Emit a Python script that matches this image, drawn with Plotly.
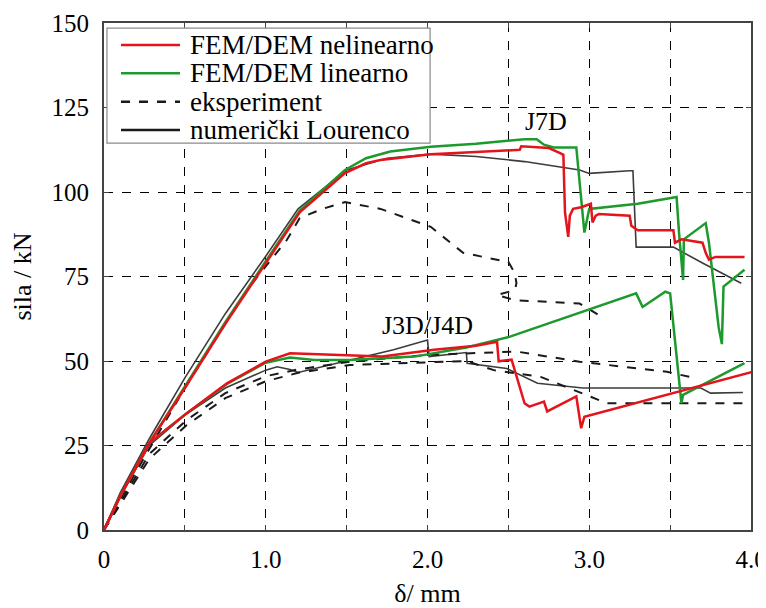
import plotly.graph_objects as go

# ---------------- data ----------------
# J7D - FEM/DEM nelinearno (red)
red_j7d_x = [0, 0.1, 0.28, 0.5, 0.75, 1.0, 1.21, 1.49, 1.62, 1.71, 2.02, 2.3, 2.57, 2.58, 2.75, 2.82,
             2.84, 2.85, 2.87, 2.88, 2.9, 2.95, 3.01, 3.02, 3.04, 3.06, 3.25, 3.26, 3.3, 3.52, 3.53,
             3.57, 3.7, 3.72, 3.74, 3.78, 3.96]
red_j7d_y = [0, 10, 25.7, 42, 61, 79, 94, 105.6, 108.5, 109.5, 111.2, 111.8, 112.5, 113.5, 113, 111.5,
             111, 94, 86.7, 93, 95, 95.5, 96.5, 91, 93, 93.5, 93, 90, 88.7, 88.7, 85,
             86, 85, 82, 80, 80.8, 80.8]

# J7D - FEM/DEM linearno (green)
green_j7d_x = [0, 0.1, 0.28, 0.5, 0.75, 1.0, 1.21, 1.49, 1.62, 1.77, 2.02, 2.3, 2.6, 2.675, 2.72, 2.78,
               2.92, 2.97, 2.99, 3.0, 3.3, 3.5, 3.54, 3.555, 3.58, 3.585, 3.72, 3.74, 3.8, 3.82, 3.83, 3.96]
green_j7d_y = [0, 10, 25.7, 42.5, 61.5, 79.5, 94.5, 106.5, 110, 112, 113.4, 114.3, 115.6, 115.6, 114, 113.2,
               113.2, 88, 93, 95, 96.5, 98, 98.5, 88, 74, 86, 90.8, 85, 60, 55, 72, 77]

# J7D - numerički Lourenco (black solid)
lour_j7d_x = [0, 0.1, 0.28, 0.5, 0.75, 1.0, 1.2, 1.5, 1.75, 2.02, 2.3, 2.6, 2.94, 3.0, 3.25, 3.27, 3.29,
              3.52, 3.7, 3.94]
lour_j7d_y = [0, 11, 27, 45, 64, 81, 95, 106.5, 110, 111.2, 110.5, 109, 106.5, 105.5, 106.3, 106.3, 83.7,
              83.7, 79, 73]

# J7D - eksperiment (black dashed)
exp_j7d_x = [0, 0.1, 0.28, 0.5, 0.75, 0.9, 1.0, 1.13, 1.21, 1.35, 1.49, 1.71, 2.02, 2.22, 2.5, 2.54,
             2.55, 2.54, 2.43, 2.54, 2.94, 3.09]
exp_j7d_y = [0, 9, 24, 42, 61, 72, 78, 85.8, 92.3, 95, 97, 95, 89.7, 82, 79.3, 76,
             73, 71, 69.5, 68, 67, 62.7]

# J3D/J4D - FEM/DEM nelinearno (red)
red_j34_x = [0, 0.1, 0.28, 0.51, 0.76, 1.0, 1.15, 1.32, 1.52, 1.72, 2.04, 2.3, 2.43, 2.44, 2.52, 2.6,
             2.63, 2.72, 2.74, 2.92, 2.95, 2.97, 4.01]
red_j34_y = [0, 10, 25.7, 34.5, 43.4, 49.8, 52.3, 52, 51.8, 51.3, 53.3, 54.5, 55.7, 49.9, 50.4, 37.5,
             36.5, 38, 35.1, 39.5, 30.1, 33.5, 46.8]

# J3D/J4D - FEM/DEM linearno (green)
green_j34_x = [0, 0.1, 0.28, 0.51, 0.76, 1.0, 1.15, 1.3, 1.52, 1.92, 2.24, 2.51, 3.29, 3.33, 3.47, 3.5,
               3.57, 3.58, 3.96]
green_j34_y = [0, 10, 25.7, 34.5, 43.2, 49.5, 51, 50.3, 50.3, 51.3, 54, 57.2, 70, 66, 70.5, 70,
               37.5, 40, 49.4]

# J3D/J4D - numerički Lourenco (black solid)
lour_j34_x = [0, 0.1, 0.28, 0.5, 0.75, 1.0, 1.07, 1.15, 1.2, 1.52, 1.79, 2.0, 2.01, 2.24, 2.245, 2.49,
              2.68, 2.96, 3.69, 3.75, 3.95]
lour_j34_y = [0, 10, 25, 34, 42, 47.3, 48.3, 47.5, 46.6, 50.3, 53.3, 56.2, 51.3, 52.5, 49.3, 47.8,
              43.4, 42, 42, 40.5, 40.7]

# J3D eksperiment (black dashed)
exp_j3_x = [0, 0.1, 0.28, 0.51, 0.75, 1.0, 1.2, 1.52, 2.0, 2.55, 2.94, 3.48, 3.62]
exp_j3_y = [0, 8, 22.5, 32.5, 40.5, 45.5, 47.5, 49.8, 51.8, 52.8, 49.8, 46.8, 45.3]

# J4D eksperiment (black dashed)
exp_j4_x = [0, 0.1, 0.28, 0.51, 0.75, 1.0, 1.2, 1.52, 2.24, 2.41, 2.7, 3.11, 3.96]
exp_j4_y = [0, 7.5, 21, 31, 39, 44, 46.5, 48.8, 50, 47.3, 45.3, 37.5, 37.5]

x_tick_vals = [0, 0.5, 1.0, 1.5, 2.0, 2.5, 3.0, 3.5, 4.0]
x_tick_text = ["0", "", "1.0", "", "2.0", "", "3.0", "", "4.0"]
y_tick_vals = [0, 25, 50, 75, 100, 125, 150]

legend_names = ["FEM/DEM nelinearno", "FEM/DEM linearno", "eksperiment", "numerički Lourenco"]

# ---------------- styles ----------------
RED = "#e3141b"
GREEN = "#1c9a2c"
BLACK = "#1a1a1a"
GRAY = "#3c3c3c"
FONT = "Liberation Serif"

fig = go.Figure()

def add(x, y, color, width, dash, name):
    fig.add_trace(go.Scatter(x=x, y=y, mode="lines", name=name, showlegend=False,
                             line=dict(color=color, width=width, dash=dash)))

add(lour_j7d_x, lour_j7d_y, GRAY, 1.6, "solid", legend_names[3])
add(lour_j34_x, lour_j34_y, GRAY, 1.6, "solid", legend_names[3])
add(exp_j7d_x, exp_j7d_y, BLACK, 2, "dash", legend_names[2])
add(exp_j3_x, exp_j3_y, BLACK, 2, "dash", legend_names[2])
add(exp_j4_x, exp_j4_y, BLACK, 2, "dash", legend_names[2])
add(green_j7d_x, green_j7d_y, GREEN, 2.5, "solid", legend_names[1])
add(green_j34_x, green_j34_y, GREEN, 2.5, "solid", legend_names[1])
add(red_j7d_x, red_j7d_y, RED, 2.5, "solid", legend_names[0])
add(red_j34_x, red_j34_y, RED, 2.5, "solid", legend_names[0])

# ---------------- legend box (drawn in paper coordinates) ----------------
fig.add_shape(type="rect", xref="paper", yref="paper", x0=0.0046, x1=0.504, y0=0.763, y1=0.990,
              line=dict(color="#8a8a8a", width=1.2), fillcolor="white", layer="above")
leg_colors = [RED, GREEN, BLACK, BLACK]
leg_dash = ["solid", "solid", "dash", "solid"]
leg_y = [0.9566, 0.9007, 0.8448, 0.7890]
for name, c, d, yy in zip(legend_names, leg_colors, leg_dash, leg_y):
    fig.add_shape(type="line", xref="paper", yref="paper", x0=0.0263, x1=0.1175, y0=yy, y1=yy,
                  line=dict(color=c, width=2.5, dash=d), layer="above")
    fig.add_annotation(xref="paper", yref="paper", x=0.1298, y=yy, text=name, showarrow=False,
                       xanchor="left", yanchor="middle",
                       font=dict(family=FONT, size=27, color="black"))

fig.add_annotation(x=2.73, y=121, text="J7D", showarrow=False,
                   font=dict(family=FONT, size=26, color="black"))
fig.add_annotation(x=2.0, y=60.5, text="J3D/J4D", showarrow=False,
                   font=dict(family=FONT, size=26, color="black"))

axis_common = dict(showline=True, mirror="ticks", linecolor="#444444", linewidth=2,
                   showgrid=True, gridcolor="black", gridwidth=1, griddash="dash",
                   ticks="inside", ticklen=5, tickcolor="#444444", zeroline=False,
                   automargin=False, ticklabeloverflow="allow",
                   tickfont=dict(family=FONT, size=25, color="black"))

fig.update_xaxes(range=[0, 4.0], tickvals=x_tick_vals, ticktext=x_tick_text,
                 ticklabelstandoff=6,
                 title=dict(text="δ/ mm", font=dict(family=FONT, size=26, color="black"), standoff=12),
                 **axis_common)
fig.update_yaxes(range=[0, 150], tickvals=y_tick_vals, ticklabelstandoff=8,
                 title=dict(text="sila / kN", font=dict(family=FONT, size=26, color="black"), standoff=14),
                 **axis_common)

# the page shows the figure with an 8 px offset; margins place the plot area as in the reference
fig.update_layout(
    width=766, height=608,
    margin=dict(l=96, r=23, t=15, b=86),
    paper_bgcolor="white", plot_bgcolor="white",
    font=dict(family=FONT, color="black"),
    showlegend=False,
)

fig.write_html("out.html")
